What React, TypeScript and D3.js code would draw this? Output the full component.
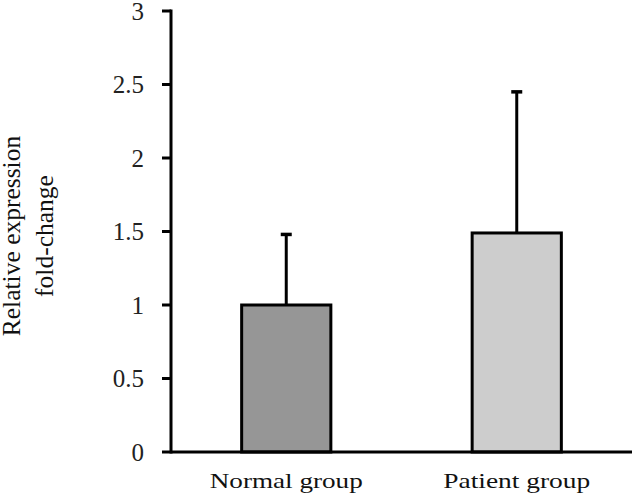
import React from "react";
import * as d3 from "d3";

const categories = ["Normal group", "Patient group"];
const means = [1.0, 1.49];
const errors = [0.48, 0.96];
const barColors = ["#969696", "#cdcdcd"];
const yTicks = [0, 0.5, 1, 1.5, 2, 2.5, 3];
const yTitle = ["Relative expression", "fold-change"];

const W = 632;
const H = 495;
const x0 = 171;
const x1 = 632;
const yBottom = 452;
const yTop = 11;

const fontStyle = { fontFamily: "Liberation Serif, Times New Roman, Tinos, serif" };

export default function App() {
  const y = d3.scaleLinear().domain([0, 3]).range([yBottom, yTop]);
  const x = d3
    .scaleBand<string>()
    .domain(categories)
    .range([x0, x1])
    .paddingInner(0.6)
    .paddingOuter(0.3);
  const bw = x.bandwidth();
  return (
    <svg
      width={W}
      height={H}
      style={{ position: "absolute", left: 0, top: 0, background: "#fff" }}
    >
      {categories.map((c, i) => {
        const bx = x(c)!;
        const cx = bx + bw / 2;
        return (
          <g key={c}>
            <line
              x1={cx}
              x2={cx}
              y1={y(means[i])}
              y2={y(means[i] + errors[i])}
              stroke="#000"
              strokeWidth={3}
            />
            <line
              x1={cx - 5.5}
              x2={cx + 5.5}
              y1={y(means[i] + errors[i])}
              y2={y(means[i] + errors[i])}
              stroke="#000"
              strokeWidth={3.5}
            />
            <rect
              x={bx + 1.5}
              y={y(means[i])}
              width={bw - 3}
              height={yBottom - y(means[i])}
              fill={barColors[i]}
              stroke="#000"
              strokeWidth={3}
            />
            <text
              x={cx}
              y={488}
              textAnchor="middle"
              style={fontStyle}
              fontSize={21}
              fill="#111"
              textLength={i === 0 ? 153 : 147}
              lengthAdjust="spacingAndGlyphs"
            >
              {c}
            </text>
          </g>
        );
      })}
      <line x1={x0} x2={x0} y1={yTop - 1.5} y2={yBottom + 1.5} stroke="#000" strokeWidth={3} />
      {yTicks.map((t) => (
        <g key={t}>
          <line x1={x0 - 9} x2={x0} y1={y(t)} y2={y(t)} stroke="#000" strokeWidth={3} />
          <text
            x={144}
            y={y(t)}
            dy="0.35em"
            textAnchor="end"
            style={fontStyle}
            fontSize={25}
            fill="#222"
          >
            {t}
          </text>
        </g>
      ))}
      <line x1={x0} x2={x1} y1={yBottom} y2={yBottom} stroke="#000" strokeWidth={3} />
      {yTitle.map((l, i) => (
        <text
          key={l}
          transform={`translate(${20 + i * 33},236) rotate(-90)`}
          textAnchor="middle"
          style={fontStyle}
          fontSize={25.5}
          fill="#111"
        >
          {l}
        </text>
      ))}
    </svg>
  );
}
